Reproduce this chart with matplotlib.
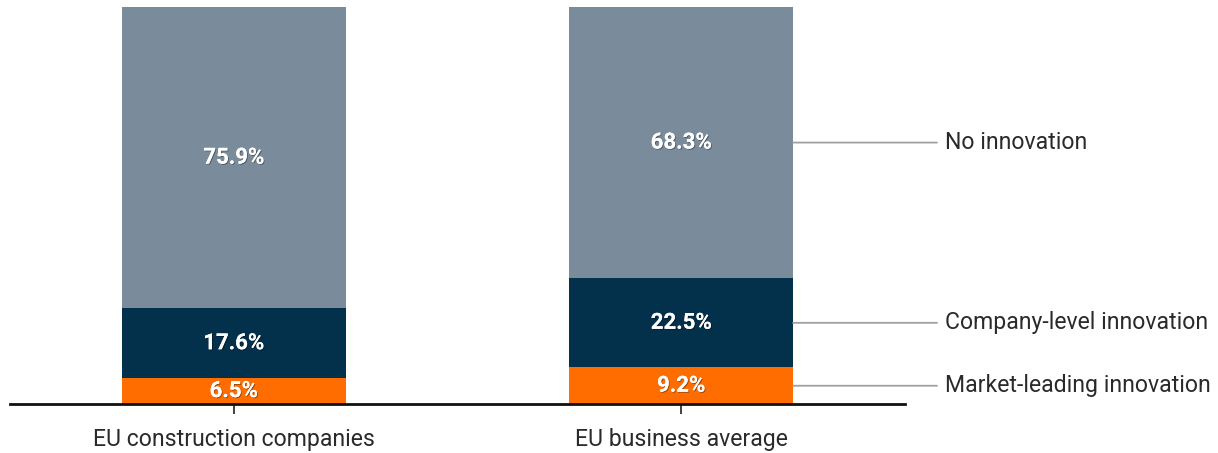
import matplotlib.pyplot as plt
import matplotlib.patheffects as pe
import numpy as np

plt.rcParams['font.family'] = ['Roboto', 'DejaVu Sans']

groups = ["EU construction companies", "EU business average"]
series_names = ["Market-leading innovation", "Company-level innovation", "No innovation"]
market_leading = [6.5, 9.2]
company_level = [17.6, 22.5]
no_innovation = [75.9, 68.3]
colors = ["#ff6c00", "#03304a", "#7a8b9c"]

fig = plt.figure(figsize=(12.18, 4.53), dpi=100)
ax = fig.add_axes([10 / 1218, 49 / 453, 895 / 1218, 397 / 453])

x = np.arange(len(groups))
width = 0.5
bottom = np.zeros(len(groups))
shadow = [pe.withSimplePatchShadow(offset=(0.7, -0.7), shadow_rgbFace='black', alpha=0.35), pe.Normal()]

for name, vals, col in zip(series_names, [market_leading, company_level, no_innovation], colors):
    vals = np.array(vals)
    ax.bar(x, vals, width, bottom=bottom, color=col, label=name)
    for xi, b, v in zip(x, bottom, vals):
        ax.text(xi, b + v / 2, f"{v:.1f}%", ha='center', va='center', color='white',
                fontsize=16, fontweight='bold', path_effects=shadow)
    # leader line + label on the right of the last bar
    mid = bottom[-1] + vals[-1] / 2
    ax.annotate("", xy=(x[-1] + width / 2, mid), xytext=(1.5 + 32 / 447.5, mid),
                xycoords='data', textcoords='data',
                arrowprops=dict(arrowstyle='-', color='#a0a0a0', lw=1.3,
                                shrinkA=0, shrinkB=0), annotation_clip=False)
    ax.text(1.5 + 40 / 447.5, mid, name, ha='left', va='center', fontsize=16.6,
            color='#2a2a2a', clip_on=False)
    bottom = bottom + vals

ax.set_xlim(-0.5, 1.5)
ax.set_ylim(0, 100)
ax.set_xticks(x, groups)
ax.tick_params(axis='x', length=7, width=1.2, color='#222222', labelsize=16.6,
               labelcolor='#2a2a2a', pad=10)
ax.set_yticks([])
for s in ['top', 'right', 'left']:
    ax.spines[s].set_visible(False)
ax.spines['bottom'].set_linewidth(2)
ax.spines['bottom'].set_color('#111111')

fig.savefig("out.png", dpi=100)
